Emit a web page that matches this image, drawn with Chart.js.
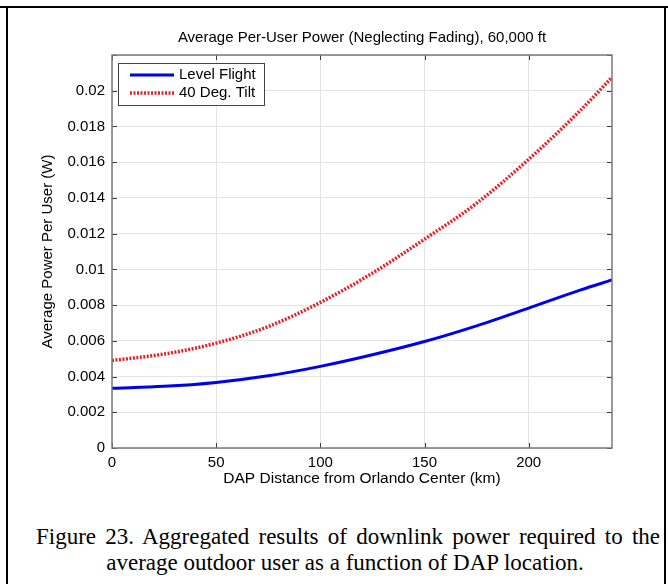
<!DOCTYPE html>
<html>
<head>
<meta charset="utf-8">
<script src="https://cdn.jsdelivr.net/npm/chart.js@4/dist/chart.umd.min.js"></script>
<style>
  body { margin: 0; background: #fff; }
  #page { position: relative; width: 668px; height: 584px; overflow: hidden; }
  #wrap { position: absolute; left: 0; top: 0; width: 668px; height: 500px; }
  .rule { position: absolute; background: #000; }
  #caption {
    position: absolute; left: 36px; width: 624px; top: 524px;
    font-family: "Liberation Serif", "Times New Roman", serif;
    font-size: 23px; line-height: 26px; color: #000;
  }
  #caption .l1 { text-align: justify; text-align-last: justify; }
  #caption .l2 { text-align: center; padding-right: 6px; }
</style>
</head>
<body>
<div id="page">
  <div class="rule" style="left:0;top:6px;width:668px;height:2px"></div>
  <div class="rule" style="left:6px;top:6px;width:2px;height:578px"></div>
  <div class="rule" style="left:664px;top:6px;width:2px;height:578px"></div>
  <div id="wrap"><canvas id="chart"></canvas></div>
  <div id="caption">
    <div class="l1">Figure 23. Aggregated results of downlink power required to the</div>
    <div class="l2">average outdoor user as a function of DAP location.</div>
  </div>
</div>
<script>
// values
const distanceKm = [0, 25, 50, 75, 100, 125, 150, 175, 200, 225, 240];
const levelFlight = [0.00335, 0.00345, 0.00367, 0.00404, 0.00457, 0.00522, 0.00596, 0.00684, 0.00783, 0.00885, 0.00941];
const tilt40 = [0.0049, 0.00526, 0.00587, 0.0068, 0.00815, 0.00979, 0.01169, 0.0137, 0.01616, 0.01892, 0.02075];
const seriesNames = ['Level Flight', '40 Deg. Tilt'];

const font = '"Liberation Sans", Arial, sans-serif';

function toPoints(ys) {
  return distanceKm.map((x, i) => ({ x: x, y: ys[i] }));
}

// box, inward tick marks and the legend, MATLAB style
const matlabAxes = {
  id: 'matlabAxes',
  afterDatasetsDraw(chart) {
    const { ctx, chartArea: a, scales } = chart;
    ctx.save();
    ctx.strokeStyle = '#3c3c3c';
    ctx.lineWidth = 1;
    ctx.beginPath();
    scales.y.ticks.forEach(t => {
      const py = Math.round(scales.y.getPixelForValue(t.value)) + 0.5;
      ctx.moveTo(a.left, py); ctx.lineTo(a.left + 5, py);
      ctx.moveTo(a.right, py); ctx.lineTo(a.right - 5, py);
    });
    scales.x.ticks.forEach(t => {
      const px = Math.round(scales.x.getPixelForValue(t.value)) + 0.5;
      ctx.moveTo(px, a.bottom); ctx.lineTo(px, a.bottom - 5);
      ctx.moveTo(px, a.top); ctx.lineTo(px, a.top + 5);
    });
    ctx.stroke();

    ctx.strokeStyle = '#7a7a7a';
    ctx.lineWidth = 1.5;
    ctx.strokeRect(a.left, a.top, a.right - a.left, a.bottom - a.top);

    // legend
    const lx = a.left + 6, ly = a.top + 8, lw = 146, lh = 42;
    ctx.fillStyle = '#fff';
    ctx.fillRect(lx, ly, lw, lh);
    ctx.strokeStyle = '#444';
    ctx.lineWidth = 1;
    ctx.strokeRect(lx + 0.5, ly + 0.5, lw, lh);
    ctx.font = '15px ' + font;
    ctx.textBaseline = 'middle';
    chart.data.datasets.forEach((ds, i) => {
      const yy = ly + 12 + i * 18;
      ctx.strokeStyle = ds.borderColor;
      ctx.lineWidth = ds.borderWidth;
      ctx.setLineDash(ds.borderDash || []);
      ctx.beginPath();
      ctx.moveTo(lx + 12, yy); ctx.lineTo(lx + 56, yy);
      ctx.stroke();
      ctx.setLineDash([]);
      ctx.fillStyle = '#000';
      ctx.fillText(ds.label, lx + 61, yy);
    });
    ctx.restore();
  }
};

new Chart(document.getElementById('chart'), {
  type: 'line',
  data: {
    datasets: [
      {
        label: seriesNames[0],
        data: toPoints(levelFlight),
        borderColor: '#0000f0',
        borderWidth: 3,
        pointRadius: 0,
        cubicInterpolationMode: 'monotone',
        fill: false
      },
      {
        label: seriesNames[1],
        data: toPoints(tilt40),
        borderColor: '#e8202a',
        borderWidth: 3.5,
        borderDash: [2, 1.5],
        pointRadius: 0,
        cubicInterpolationMode: 'monotone',
        fill: false
      }
    ]
  },
  options: {
    responsive: true,
    maintainAspectRatio: false,
    animation: false,
    layout: { padding: { left: 0, right: 56, top: 0, bottom: 0 } },
    plugins: {
      legend: { display: false },
      tooltip: { enabled: false },
      title: {
        display: true,
        fullSize: false,
        text: 'Average Per-User Power (Neglecting Fading), 60,000 ft',
        color: '#000',
        font: { family: font, size: 15, weight: 'normal' },
        padding: { top: 29, bottom: 8 }
      }
    },
    scales: {
      x: {
        type: 'linear',
        min: 0,
        max: 240,
        afterFit(scale) { scale.height = 52; },
        ticks: {
          stepSize: 50,
          includeBounds: false,
          padding: 6,
          color: '#000',
          maxRotation: 0,
          font: { family: font, size: 15 }
        },
        grid: { color: '#e4e4e4', drawTicks: false },
        border: { display: false },
        title: {
          display: true,
          text: 'DAP Distance from Orlando Center (km)',
          color: '#000',
          font: { family: font, size: 15.5 },
          padding: { top: 0, bottom: 12 }
        }
      },
      y: {
        min: 0,
        max: 0.022,
        afterFit(scale) { scale.width = 112; },
        ticks: {
          stepSize: 0.002,
          padding: 7,
          color: '#000',
          font: { family: font, size: 15 },
          callback: v => (v > 0.0205 ? '' : String(parseFloat(v.toFixed(4))))
        },
        grid: { color: '#e4e4e4', drawTicks: false },
        border: { display: false },
        title: {
          display: true,
          text: 'Average Power Per User (W)',
          color: '#000',
          font: { family: font, size: 15 },
          padding: { top: 39, bottom: 0 }
        }
      }
    }
  },
  plugins: [matlabAxes]
});
</script>
</body>
</html>
